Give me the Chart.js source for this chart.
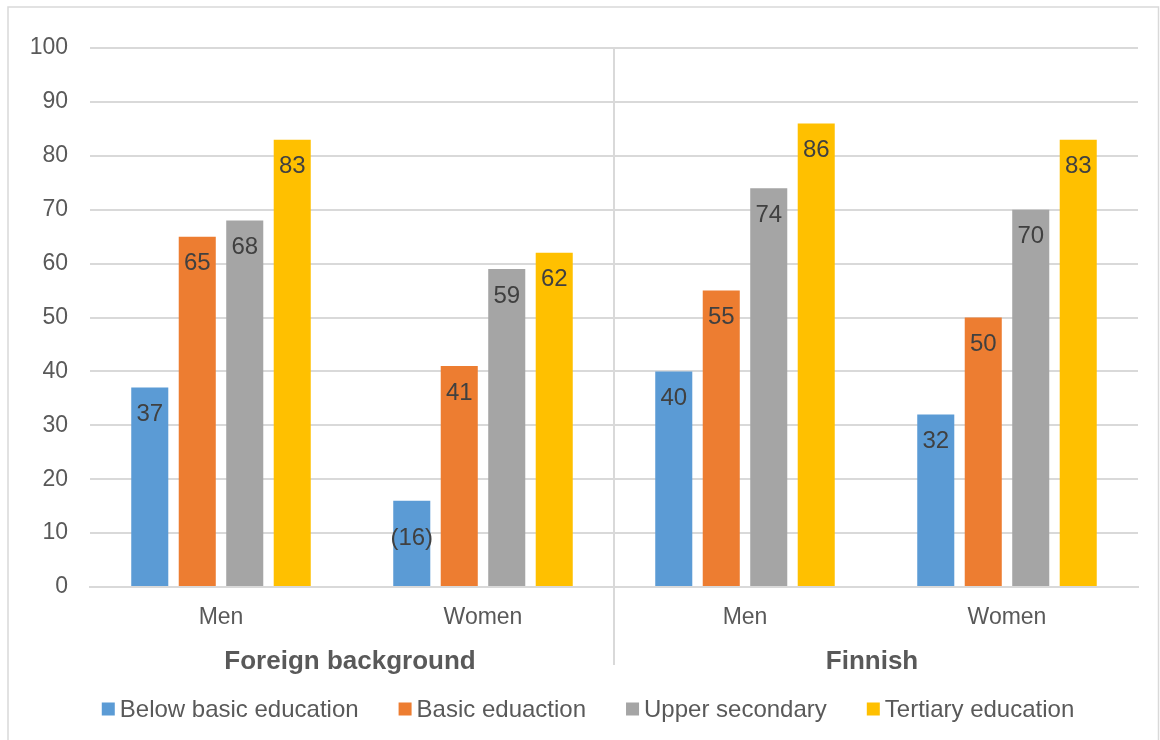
<!DOCTYPE html>
<html>
<head>
<meta charset="utf-8">
<script src="https://cdn.jsdelivr.net/npm/chart.js@4.4.1/dist/chart.umd.min.js"></script>
<style>
  html, body { margin: 0; padding: 0; background: #fff; }
  #wrap { width: 1160px; height: 740px; position: relative; }
</style>
</head>
<body>
<div id="wrap"><canvas id="chart"></canvas></div>
<script>
// categories and group labels
const categories = ['Men', 'Women', 'Men', 'Women'];
const groups = ['Foreign background', 'Finnish'];

// series values (%)
const belowBasic = [37, 16, 40, 32];
const basic = [65, 41, 55, 50];
const upperSecondary = [68, 59, 74, 70];
const tertiary = [83, 62, 86, 83];

// label text shown on bars (bracketed = small sample)
const belowBasicLabels = ['37', '(16)', '40', '32'];

const yTicks = [0, 10, 20, 30, 40, 50, 60, 70, 80, 90, 100];

const textGrey = '#595959';
const font = 'Liberation Sans, Arial, sans-serif';

// draws value labels inside the bar tops
const barLabels = {
  id: 'barLabels',
  afterDatasetsDraw(chart) {
    const ctx = chart.ctx;
    ctx.save();
    ctx.font = '24px ' + font;
    ctx.fillStyle = '#404040';
    ctx.textAlign = 'center';
    ctx.textBaseline = 'middle';
    chart.data.datasets.forEach((ds, i) => {
      const meta = chart.getDatasetMeta(i);
      meta.data.forEach((bar, j) => {
        const txt = ds.labelTexts ? ds.labelTexts[j] : String(ds.data[j]);
        let y = bar.y + 27;
        if (txt.startsWith('(')) y = (bar.y + bar.base) / 2 - 5;
        ctx.fillText(txt, bar.x, y);
      });
    });
    ctx.restore();
  }
};

// frame, separator line, group titles and legend
const groupAxis = {
  id: 'groupAxis',
  beforeDraw(chart) {
    const ctx = chart.ctx;
    ctx.save();
    ctx.fillStyle = '#fff';
    ctx.fillRect(0, 0, chart.width, chart.height);
    ctx.strokeStyle = '#d9d9d9';
    ctx.lineWidth = 1.5;
    ctx.strokeRect(8, 7, chart.width - 9.5, chart.height);
    ctx.restore();
  },
  afterDraw(chart) {
    const ctx = chart.ctx;
    const a = chart.chartArea;
    const mid = (a.left + a.right) / 2;
    ctx.save();
    ctx.strokeStyle = '#d9d9d9';
    ctx.lineWidth = 2;
    ctx.beginPath();
    ctx.moveTo(mid, a.top);
    ctx.lineTo(mid, a.bottom + 78);
    ctx.stroke();
    ctx.font = 'bold 26px ' + font;
    ctx.fillStyle = textGrey;
    ctx.textAlign = 'center';
    ctx.textBaseline = 'middle';
    ctx.fillText(groups[0], (a.left + mid) / 2 - 2, a.bottom + 75);
    ctx.fillText(groups[1], (mid + a.right) / 2 - 4, a.bottom + 75);

    // legend
    ctx.font = '24px ' + font;
    ctx.textAlign = 'left';
    const ds = chart.data.datasets;
    const widths = ds.map(d => 13 + 5 + ctx.measureText(d.label).width);
    const total = widths.reduce((s, w) => s + w, 0) + 40 * (ds.length - 1);
    let x = 588 - total / 2;
    const y = a.bottom + 122;
    ds.forEach((d, i) => {
      ctx.fillStyle = d.backgroundColor;
      ctx.fillRect(x, y - 6.5, 13, 13);
      ctx.fillStyle = textGrey;
      ctx.fillText(d.label, x + 18, y + 1);
      x += widths[i] + 40;
    });
    ctx.restore();
  }
};

new Chart(document.getElementById('chart').getContext('2d'), {
  type: 'bar',
  data: {
    labels: categories,
    datasets: [
      { label: 'Below basic education', data: belowBasic, labelTexts: belowBasicLabels, backgroundColor: '#5b9bd5' },
      { label: 'Basic eduaction', data: basic, backgroundColor: '#ed7d31' },
      { label: 'Upper secondary', data: upperSecondary, backgroundColor: '#a5a5a5' },
      { label: 'Tertiary education', data: tertiary, backgroundColor: '#ffc000' }
    ]
  },
  options: {
    responsive: true,
    maintainAspectRatio: false,
    animation: false,
    categoryPercentage: 0.725,
    barPercentage: 0.78,
    layout: { padding: { left: 10, top: 48, right: 22, bottom: 65 } },
    plugins: {
      legend: { display: false },
      tooltip: { enabled: false }
    },
    scales: {
      x: {
        grid: { display: false },
        border: { color: '#d9d9d9', width: 2 },
        ticks: { color: textGrey, font: { family: font, size: 23 }, padding: 9 },
        afterFit(scale) { scale.height = 88; }
      },
      y: {
        min: 0,
        max: 100,
        afterBuildTicks(scale) { scale.ticks = yTicks.map(v => ({ value: v })); },
        afterFit(scale) { scale.width = 80; },
        grid: { color: '#d9d9d9', lineWidth: 2, drawTicks: false },
        border: { display: false },
        ticks: { color: textGrey, font: { family: font, size: 23 }, padding: 22 }
      }
    }
  },
  plugins: [barLabels, groupAxis]
});
</script>
</body>
</html>
